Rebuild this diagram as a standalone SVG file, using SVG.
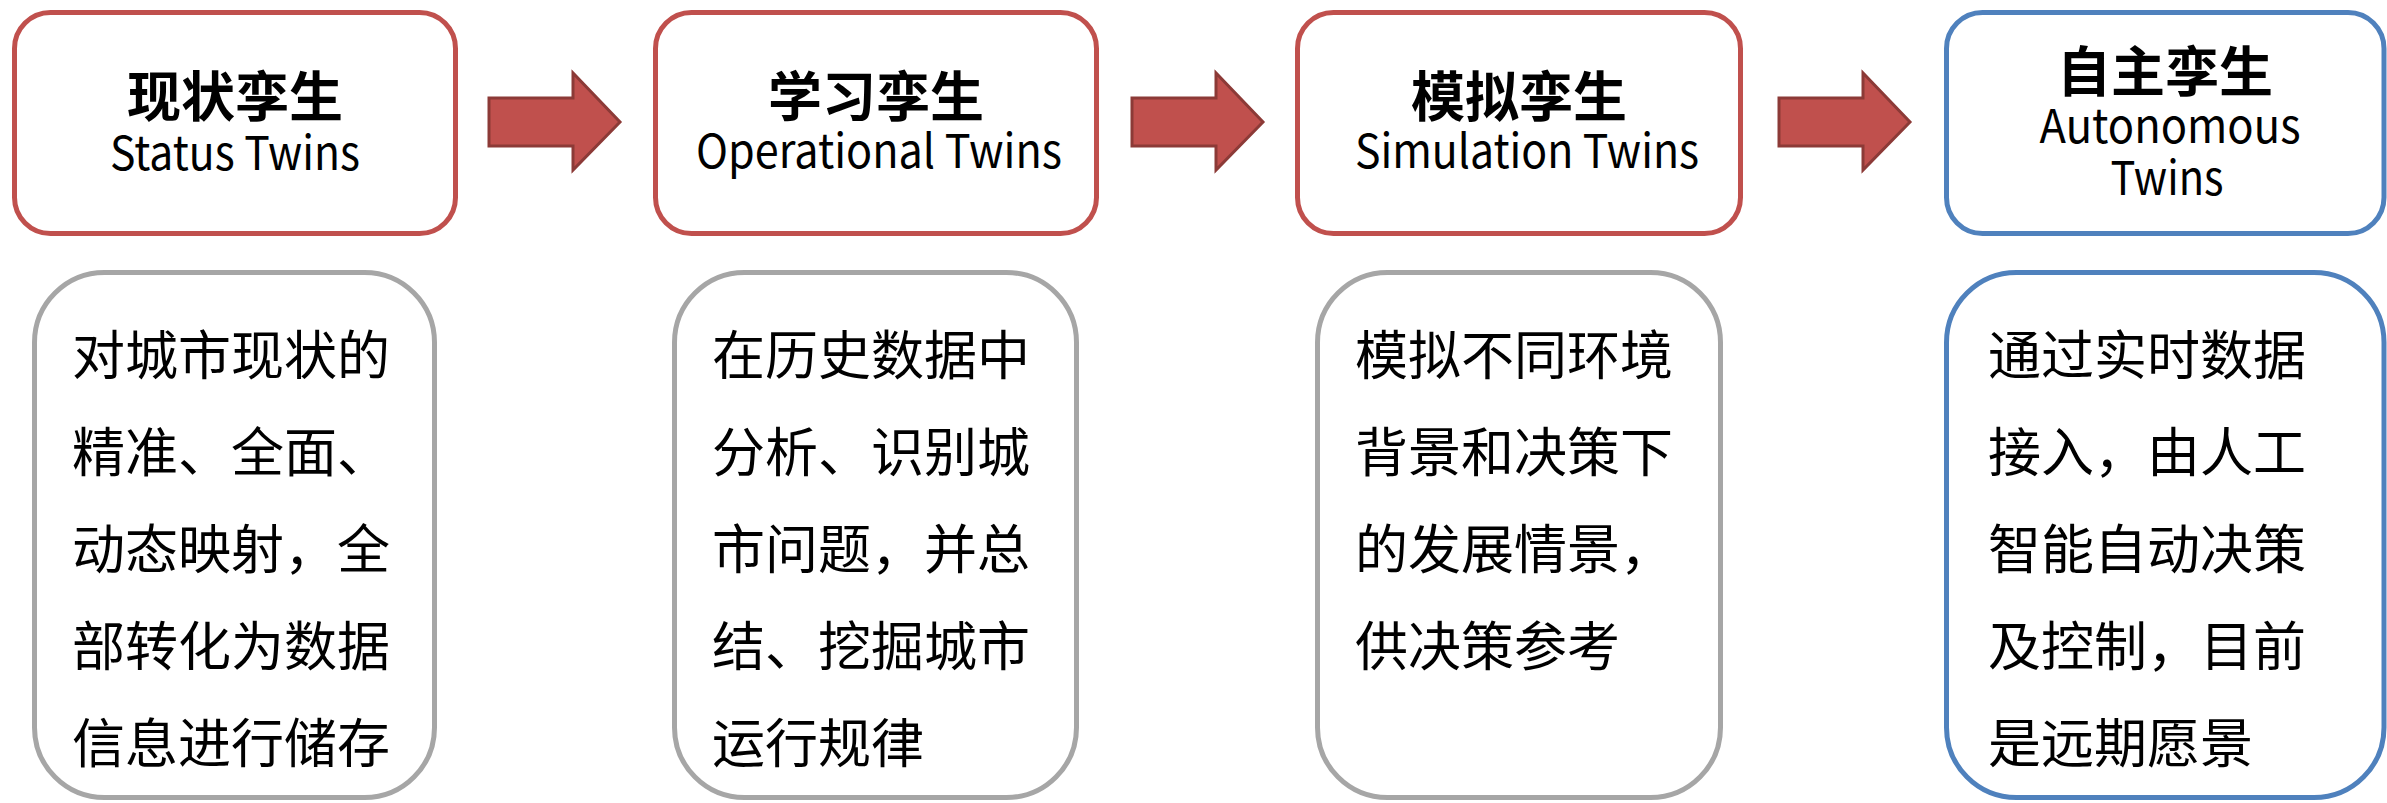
<svg xmlns="http://www.w3.org/2000/svg" width="2387" height="803" viewBox="0 0 2387 803">
<style>
.top{fill:#fff;stroke:#C0504D;stroke-width:5}
.topb{fill:#fff;stroke:#4F81BD;stroke-width:5}
.bot{fill:#fff;stroke:#A6A6A6;stroke-width:5}
.botb{fill:#fff;stroke:#4F81BD;stroke-width:5}
.arr{fill:#C0504D;stroke:#8C3A37;stroke-width:3;stroke-linejoin:miter}
.t{font-family:"Noto Sans CJK SC","Noto Sans",sans-serif;font-size:54px;font-weight:700;fill:#000;text-anchor:middle}
.s{font-family:"Noto Sans CJK SC","Noto Sans",sans-serif;font-size:47px;fill:#000;text-anchor:middle}
.b{font-family:"Noto Sans CJK SC","Noto Sans",sans-serif;font-size:53px;fill:#000}
</style>
<rect width="2387" height="803" fill="#fff"/>
<g id="connectors">
<path class="arr" d="M489,98 H573 V73 L620,122 L573,170 V146 H489 Z"/>
<path class="arr" d="M1132,98 H1216 V73 L1263,122 L1216,170 V146 H1132 Z"/>
<path class="arr" d="M1779,98 H1863 V73 L1910,122 L1863,170 V146 H1779 Z"/>
</g>
<g id="status">
<rect class="top" x="14.5" y="12.5" width="441" height="221" rx="36"/>
<text class="t" x="235" y="117">现状孪生</text>
<text class="s" x="235" y="170" textLength="250" lengthAdjust="spacingAndGlyphs">Status Twins</text>
</g>
<g id="operational">
<rect class="top" x="655.5" y="12.5" width="441" height="221" rx="36"/>
<text class="t" x="876" y="117">学习孪生</text>
<text class="s" x="879" y="168" textLength="366" lengthAdjust="spacingAndGlyphs">Operational Twins</text>
</g>
<g id="simulation">
<rect class="top" x="1297.5" y="12.5" width="443" height="221" rx="36"/>
<text class="t" x="1519" y="117">模拟孪生</text>
<text class="s" x="1527" y="168" textLength="344" lengthAdjust="spacingAndGlyphs">Simulation Twins</text>
</g>
<g id="autonomous">
<rect class="topb" x="1946.5" y="12.5" width="437.5" height="221" rx="36"/>
<text class="t" x="2165" y="92">自主孪生</text>
<text class="s" x="2170" y="143" textLength="261" lengthAdjust="spacingAndGlyphs">Autonomous</text>
<text class="s" x="2167" y="195" textLength="113" lengthAdjust="spacingAndGlyphs">Twins</text>
</g>
<g id="status-desc">
<rect class="bot" x="34.5" y="272.5" width="400" height="525" rx="70"/>
<text class="b" x="72" y="375">对城市现状的</text>
<text class="b" x="72" y="472">精准、全面、</text>
<text class="b" x="72" y="569">动态映射，全</text>
<text class="b" x="72" y="666">部转化为数据</text>
<text class="b" x="72" y="763">信息进行储存</text>
</g>
<g id="operational-desc">
<rect class="bot" x="674.5" y="272.5" width="402" height="525" rx="70"/>
<text class="b" x="712" y="375">在历史数据中</text>
<text class="b" x="712" y="472">分析、识别城</text>
<text class="b" x="712" y="569">市问题，并总</text>
<text class="b" x="712" y="666">结、挖掘城市</text>
<text class="b" x="712" y="763">运行规律</text>
</g>
<g id="simulation-desc">
<rect class="bot" x="1317.5" y="272.5" width="403" height="525" rx="70"/>
<text class="b" x="1355" y="375">模拟不同环境</text>
<text class="b" x="1355" y="472">背景和决策下</text>
<text class="b" x="1355" y="569">的发展情景，</text>
<text class="b" x="1355" y="666">供决策参考</text>
</g>
<g id="autonomous-desc">
<rect class="botb" x="1946.5" y="272.5" width="437.5" height="525" rx="70"/>
<text class="b" x="1988" y="375">通过实时数据</text>
<text class="b" x="1988" y="472">接入，由人工</text>
<text class="b" x="1988" y="569">智能自动决策</text>
<text class="b" x="1988" y="666">及控制，目前</text>
<text class="b" x="1988" y="763">是远期愿景</text>
</g>
</svg>
